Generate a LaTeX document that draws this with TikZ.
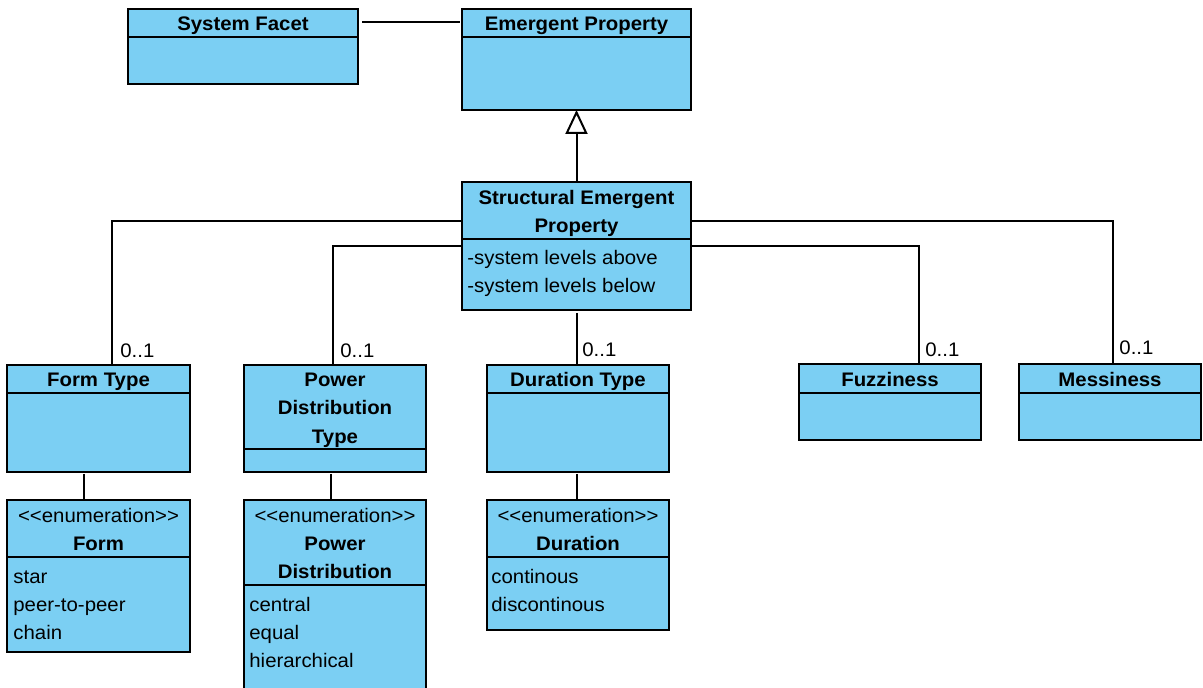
\documentclass[tikz,border=0pt]{standalone}
\usepackage{fontspec}
\setmainfont{Liberation Sans}[FakeStretch=1.04]
\usetikzlibrary{arrows.meta}
\definecolor{clsfill}{HTML}{7BCFF3}

% class box: name, x1, y1, x2, y2, y of compartment divider
\newcommand\umlclass[6]{%
  \node[cls, minimum width={(#4-#2)*0.5pt}, minimum height={(#5-#3)*0.5pt}]
    (#1) at ({(#2+#4)/2},{(#3+#5)/2}) {};
  \draw[divider] (#1.west |- 0,#6) -- (#1.east |- 0,#6);}
\newcommand\enumtag{{<}{<}enumeration{>}{>}}

\begin{document}
\begin{tikzpicture}[x=0.5pt,y=-0.5pt,
  cls/.style={draw=black, fill=clsfill, line width=1pt, inner sep=0pt, outer sep=0pt},
  divider/.style={line width=1pt},
  ttl/.style={font=\fontsize{9.8}{14}\selectfont\bfseries, inner sep=0pt, anchor=base},
  stereo/.style={font=\fontsize{9.8}{14}\selectfont, inner sep=0pt, anchor=base},
  attr/.style={font=\fontsize{9.8}{14}\selectfont, inner sep=0pt, anchor=base west},
  mult/.style={font=\fontsize{9.8}{14}\selectfont, inner sep=0pt, anchor=base west},
  conn/.style={line width=1pt}]
\useasboundingbox (0,0) rectangle (1203,688);
\clip (0,0) rectangle (1203,688);

% ---- top row ----
\umlclass{sf}{128}{9}{358}{84}{37}
\node[ttl] (sft) at (243,31) {System Facet};
\umlclass{ep}{462}{9}{691}{110}{37}
\node[ttl] (ept) at (576.5,31) {Emergent Property};

% ---- structural emergent property ----
\umlclass{sep}{462}{182}{691}{310}{239}
\node[ttl] (sept1) at (576.5,205) {Structural Emergent};
\node[ttl] (sept2) at (576.5,233) {Property};
\node[attr] (sepa1) at (467,265) {-system levels above};
\node[attr] (sepa2) at (467,293) {-system levels below};

% ---- second row ----
\umlclass{ft}{7}{365}{190}{472}{393}
\node[ttl] (ftt) at (98.5,387) {Form Type};
\umlclass{pdt}{244}{365}{426}{472}{449}
\node[ttl] (pdtt1) at (335,387) {Power};
\node[ttl] (pdtt2) at (335,415) {Distribution};
\node[ttl] (pdtt3) at (335,444) {Type};
\umlclass{dt}{487}{365}{669}{472}{393}
\node[ttl] (dtt) at (578,387) {Duration Type};
\umlclass{fz}{799}{364}{981}{440}{393}
\node[ttl] (fzt) at (890,387) {Fuzziness};
\umlclass{ms}{1019}{364}{1201}{440}{393}
\node[ttl] (mst) at (1110,387) {Messiness};

% ---- enumerations ----
\umlclass{fe}{7}{500}{190}{652}{557}
\node[stereo] (fes) at (98.5,523) {\enumtag};
\node[ttl] (fet) at (98.5,551) {Form};
\node[attr] (fe1) at (13,583) {star};
\node[attr] (fe2) at (13,611) {peer-to-peer};
\node[attr] (fe3) at (13,639) {chain};

\umlclass{pde}{244}{500}{426}{720}{585}
\node[stereo] (pdes) at (335,523) {\enumtag};
\node[ttl] (pdet1) at (335,551) {Power};
\node[ttl] (pdet2) at (335,579) {Distribution};
\node[attr] (pde1) at (249,611) {central};
\node[attr] (pde2) at (249,639) {equal};
\node[attr] (pde3) at (249,667) {hierarchical};

\umlclass{de}{487}{500}{669}{630}{557}
\node[stereo] (des) at (578,523) {\enumtag};
\node[ttl] (det) at (578,551) {Duration};
\node[attr] (de1) at (491,583) {continous};
\node[attr] (de2) at (491,611) {discontinous};

% ---- connectors ----
\draw[conn, shorten <=2pt, shorten >=1pt] (sf.east |- 0,22) -- (ep.west |- 0,22);
\draw[conn, -{Triangle[length=12pt,width=11pt,fill=white]}] (sep.north) -- (ep.south);

\draw[conn] ([yshift=12.5pt]sep.west) -| ([xshift=6.75pt]ft.north);
\draw[conn] (sep.west) -| ([xshift=-1pt]pdt.north);
\draw[conn, shorten <=1.5pt] ([xshift=0.25pt]sep.south) -- ([xshift=0.25pt]sep.south |- dt.north);
\draw[conn] (sep.east) -| ([xshift=14.5pt]fz.north);
\draw[conn] ([yshift=12.5pt]sep.east) -| ([xshift=1.5pt]ms.north);

\node[mult] (m1) at (120,358) {0..1};
\node[mult] (m2) at (340,358) {0..1};
\node[mult] (m3) at (582,357) {0..1};
\node[mult] (m4) at (925,357) {0..1};
\node[mult] (m5) at (1119,355) {0..1};

\draw[conn, shorten <=1pt] ([xshift=-7.25pt]ft.south) -- ([xshift=-7.25pt]ft.south |- fe.north);
\draw[conn, shorten <=1pt] ([xshift=-2pt]pdt.south) -- ([xshift=-2pt]pdt.south |- pde.north);
\draw[conn, shorten <=1pt] ([xshift=-0.5pt]dt.south) -- ([xshift=-0.5pt]dt.south |- de.north);
\end{tikzpicture}
\end{document}
